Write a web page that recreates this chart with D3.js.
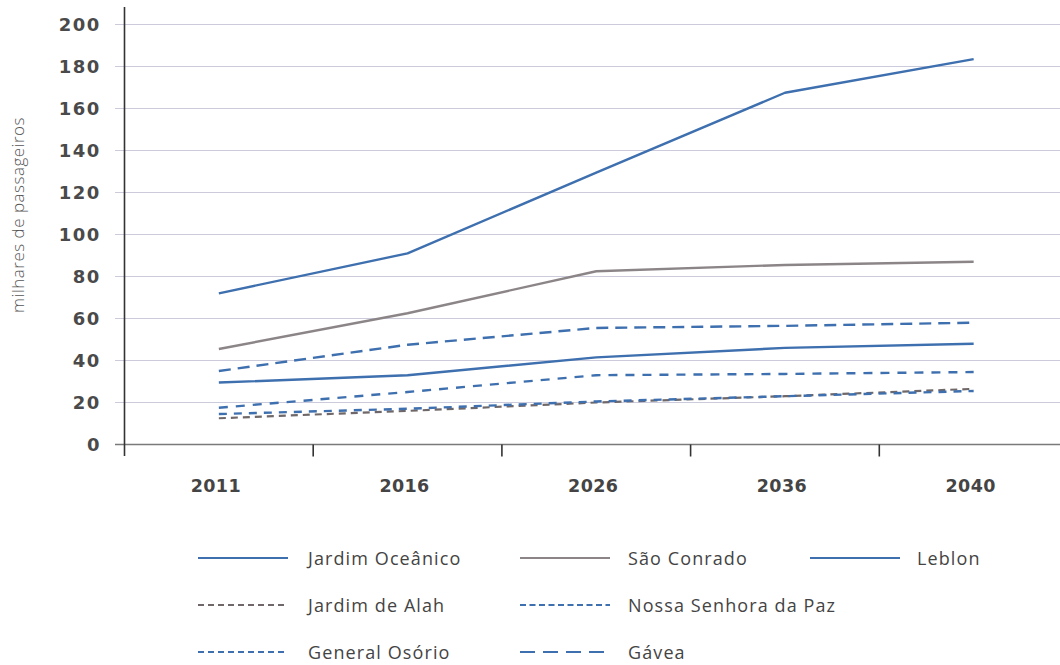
<!DOCTYPE html>
<html>
<head>
<meta charset="utf-8">
<script src="https://cdn.jsdelivr.net/npm/d3@7"></script>
<style>
  html, body { margin: 0; padding: 0; background: #ffffff; }
  svg { display: block; }
</style>
</head>
<body>
<svg id="chart" width="1060" height="665"></svg>
<script>
// ---- data ----
const years = ["2011", "2016", "2026", "2036", "2040"];
const yTicks = [0, 20, 40, 60, 80, 100, 120, 140, 160, 180, 200];
const seriesNames = ["Jardim Oceânico", "São Conrado", "Leblon", "Jardim de Alah", "Nossa Senhora da Paz", "General Osório", "Gávea"];
const jardimOceanico = [72, 91, 129.5, 167.5, 183.5];
const saoConrado = [45.5, 62.5, 82.5, 85.5, 87];
const leblon = [29.5, 33, 41.5, 46, 48];
const jardimDeAlah = [12.5, 16, 20, 23, 26.5];
const nossaSenhoraDaPaz = [17.5, 25, 33, 33.6, 34.5];
const generalOsorio = [14.5, 17, 20.5, 23, 25.5];
const gavea = [35, 47.5, 55.5, 56.5, 58];
const yTitle = "milhares de passageiros";

// ---- styles ----
const blue = "#3e6fae";
const greyLine = "#8c8588";
const darkDash = "#6f6768";
const styles = [
  { color: blue, dash: null, legendDash: null, width: 2.4 },
  { color: greyLine, dash: null, legendDash: null, width: 2.4 },
  { color: blue, dash: null, legendDash: null, width: 2.4 },
  { color: darkDash, dash: "7,5", legendDash: "6,4", width: 2.2 },
  { color: blue, dash: "9,8", legendDash: "6,3.5", width: 2.4 },
  { color: blue, dash: "8,7", legendDash: "6,4", width: 2.4 },
  { color: blue, dash: "12,7", legendDash: "15,8", width: 2.4 }
];
// legend grid slots: [column, row]
const legendSlots = [[0, 0], [1, 0], [2, 0], [0, 1], [1, 1], [0, 2], [1, 2]];
const allValues = [jardimOceanico, saoConrado, leblon, jardimDeAlah, nossaSenhoraDaPaz, generalOsorio, gavea];
const series = seriesNames.map((n, i) => ({ name: n, values: allValues[i], style: styles[i], slot: legendSlots[i] }));

const svg = d3.select("#chart");

const x = d3.scaleBand().domain(years).range([124.5, 1068]).padding(0);
const y = d3.scaleLinear().domain([0, 200]).range([444.5, 24.5]);

// gridlines
svg.append("g").selectAll("line").data(yTicks.filter(d => d > 0)).join("line")
  .attr("x1", 115).attr("x2", 1060)
  .attr("y1", d => y(d)).attr("y2", d => y(d))
  .attr("stroke", "#cbcbdc").attr("stroke-width", 1);

// baseline
svg.append("line").attr("x1", 115).attr("x2", 1060)
  .attr("y1", y(0)).attr("y2", y(0))
  .attr("stroke", "#7a7a7a").attr("stroke-width", 1.6);

// y axis line
svg.append("line").attr("x1", 124.5).attr("x2", 124.5)
  .attr("y1", 7).attr("y2", 456)
  .attr("stroke", "#333").attr("stroke-width", 1.6);

// x ticks at band boundaries
svg.append("g").selectAll("line").data(years.slice(1)).join("line")
  .attr("x1", d => x(d)).attr("x2", d => x(d))
  .attr("y1", y(0)).attr("y2", y(0) + 12)
  .attr("stroke", "#333").attr("stroke-width", 1.6);

// x labels
svg.append("g").selectAll("text").data(years).join("text")
  .attr("x", d => x(d) + x.bandwidth() / 2 - 3)
  .attr("y", 492)
  .attr("text-anchor", "middle")
  .attr("font-family", "'DejaVu Sans', sans-serif")
  .attr("font-weight", 700)
  .attr("font-size", 17.5)
  .attr("letter-spacing", 0.4)
  .attr("fill", "#444")
  .text(d => d);

// y labels
svg.append("g").selectAll("text").data(yTicks).join("text")
  .attr("x", 101)
  .attr("y", d => y(d) + 6.5)
  .attr("text-anchor", "end")
  .attr("font-family", "'DejaVu Sans', sans-serif")
  .attr("font-weight", 700)
  .attr("font-size", 18)
  .attr("letter-spacing", 1.6)
  .attr("fill", "#4a4a4a")
  .text(d => d);

// y title
svg.append("text")
  .attr("transform", "translate(24,215) rotate(-90)")
  .attr("text-anchor", "middle")
  .attr("font-family", "'Open Sans', sans-serif")
  .attr("font-weight", 300)
  .attr("font-size", 17)
  .attr("letter-spacing", 0.5)
  .attr("fill", "#555")
  .text(yTitle);

// lines
const line = d3.line()
  .x((d, i) => x(years[i]) + x.bandwidth() / 2)
  .y(d => y(d));

const order = [3, 5, 4, 6, 2, 1, 0];
svg.append("g").selectAll("path").data(order.map(i => series[i])).join("path")
  .attr("d", d => line(d.values))
  .attr("fill", "none")
  .attr("stroke", d => d.style.color)
  .attr("stroke-width", d => d.style.width)
  .attr("stroke-dasharray", d => d.style.dash)
  .attr("stroke-linejoin", "round");

// legend
const legX = [198, 520, 810];
const legTextX = [308, 628, 917];
const legY = [558, 605, 652];
const leg = svg.append("g").selectAll("g").data(series).join("g")
  .attr("transform", d => `translate(0,${legY[d.slot[1]]})`);
leg.append("line")
  .attr("x1", d => legX[d.slot[0]]).attr("x2", d => legX[d.slot[0]] + 90)
  .attr("y1", 0).attr("y2", 0)
  .attr("stroke", d => d.style.color)
  .attr("stroke-width", 2.2)
  .attr("stroke-dasharray", d => d.style.legendDash);
leg.append("text")
  .attr("x", d => legTextX[d.slot[0]])
  .attr("y", 6.5)
  .attr("font-family", "'Open Sans', sans-serif")
  .attr("font-size", 18)
  .attr("letter-spacing", 1.1)
  .attr("fill", "#444")
  .text(d => d.name);
</script>
</body>
</html>
